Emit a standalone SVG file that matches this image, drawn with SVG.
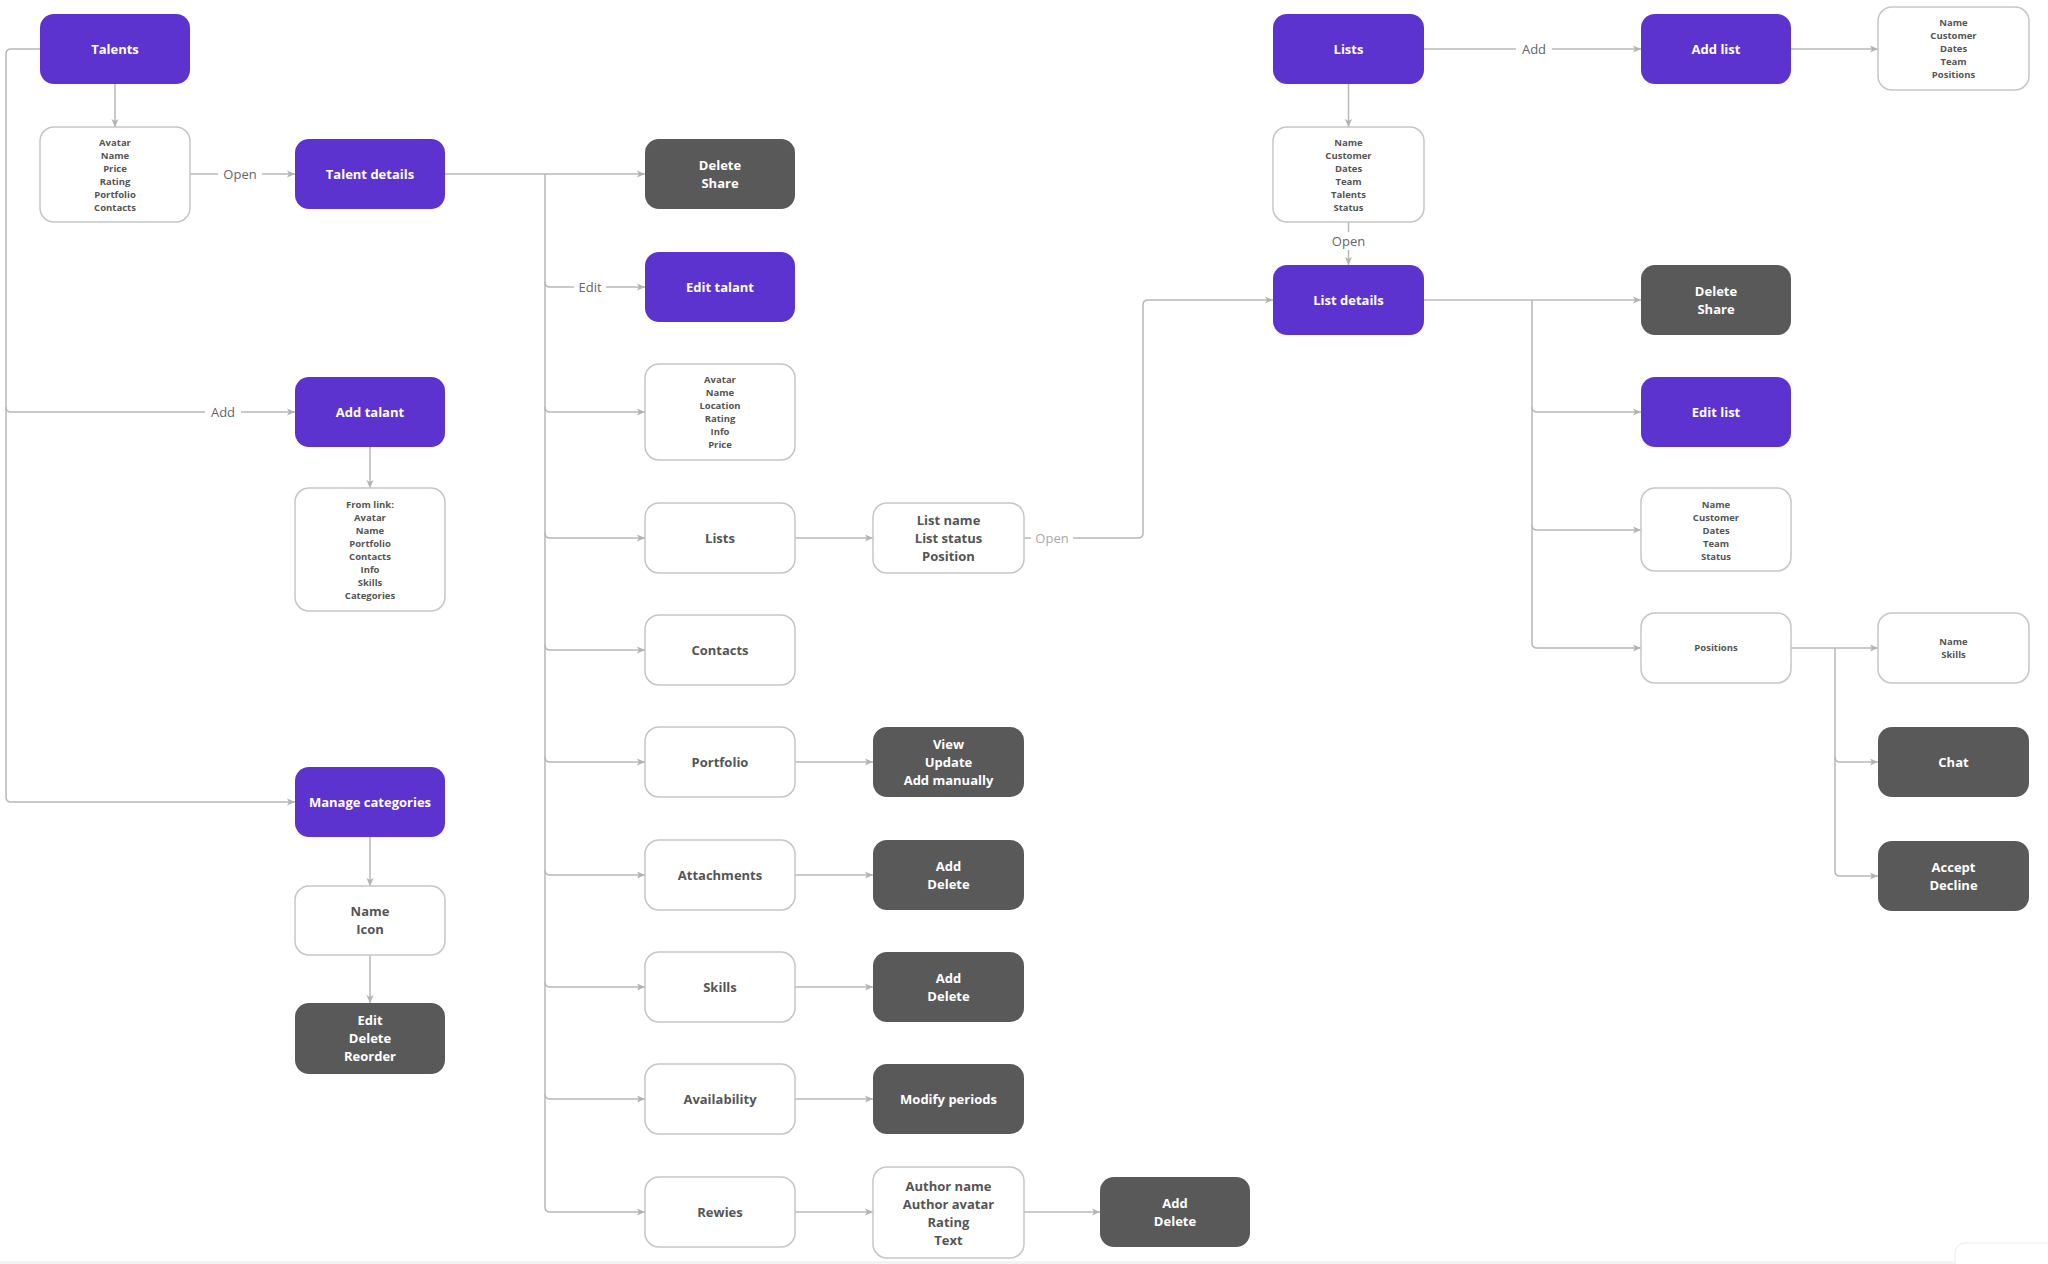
<svg xmlns="http://www.w3.org/2000/svg" width="2048" height="1264" viewBox="0 0 2048 1264">
<defs>
<style>
.p{fill:#5D33CF}
.d{fill:#595959}
.w{fill:#fff;stroke:#c6c6c6;stroke-width:1.5}
.tw{font-family:"Open Sans","Liberation Sans",sans-serif;font-weight:700;font-size:13px;fill:#fff;text-anchor:middle}
.tg{font-family:"Open Sans","Liberation Sans",sans-serif;font-weight:700;font-size:13px;fill:#555;text-anchor:middle}
.ts{font-family:"Open Sans","Liberation Sans",sans-serif;font-weight:700;font-size:9.5px;fill:#555;text-anchor:middle}
.lbl{font-family:"Open Sans","Liberation Sans",sans-serif;font-weight:400;font-size:13px;fill:#666;text-anchor:middle}
.lbl2{font-family:"Open Sans","Liberation Sans",sans-serif;font-weight:400;font-size:13px;fill:#aaa;text-anchor:middle}
.c{fill:none;stroke:#b8b8b8;stroke-width:1.5}
.a{marker-end:url(#ah)}
.bg{fill:#fff}
</style>
<marker id="ah" viewBox="0 0 10 10" refX="10" refY="5" markerWidth="8" markerHeight="8" markerUnits="userSpaceOnUse" orient="auto">
<path d="M0,0.5 L10,5 L0,9.5 L2.5,5 z" fill="#b3b3b3"/>
</marker>
</defs>
<rect width="2048" height="1264" fill="#fff"/>

<g id="connectors">
<path class="c a" d="M40 49 H11 Q6 49 6 54 V797 Q6 802 11 802 H295"/>
<path class="c a" d="M6 407 Q6 412 11 412 H295"/>
<path class="c a" d="M115 84 V127"/>
<path class="c a" d="M190 174 H295"/>
<path class="c a" d="M445 174 H645"/>
<path class="c a" d="M545 174 V1207 Q545 1212 550 1212 H645"/>
<path class="c a" d="M545 282 Q545 287 550 287 H645"/>
<path class="c a" d="M545 407 Q545 412 550 412 H645"/>
<path class="c a" d="M545 533 Q545 538 550 538 H645"/>
<path class="c a" d="M545 645 Q545 650 550 650 H645"/>
<path class="c a" d="M545 757 Q545 762 550 762 H645"/>
<path class="c a" d="M545 870 Q545 875 550 875 H645"/>
<path class="c a" d="M545 982 Q545 987 550 987 H645"/>
<path class="c a" d="M545 1094 Q545 1099 550 1099 H645"/>
<path class="c a" d="M370 447 V488"/>
<path class="c a" d="M370 837 V886"/>
<path class="c a" d="M370 955 V1003"/>
<path class="c a" d="M795 538 H873"/>
<path class="c a" d="M795 762 H873"/>
<path class="c a" d="M795 875 H873"/>
<path class="c a" d="M795 987 H873"/>
<path class="c a" d="M795 1099 H873"/>
<path class="c a" d="M795 1212 H873"/>
<path class="c a" d="M1024 1212 H1100"/>
<path class="c a" d="M1024 538 H1138 Q1143 538 1143 533 V305 Q1143 300 1148 300 H1273"/>
<path class="c a" d="M1348.5 84 V127"/>
<path class="c a" d="M1348.5 222 V265"/>
<path class="c a" d="M1424 49 H1641"/>
<path class="c a" d="M1791 49 H1878"/>
<path class="c a" d="M1424 300 H1641"/>
<path class="c a" d="M1532 300 V643 Q1532 648 1537 648 H1641"/>
<path class="c a" d="M1532 407 Q1532 412 1537 412 H1641"/>
<path class="c a" d="M1532 525 Q1532 530 1537 530 H1641"/>
<path class="c a" d="M1791 648 H1878"/>
<path class="c a" d="M1835 648 V871 Q1835 876 1840 876 H1878"/>
<path class="c a" d="M1835 757 Q1835 762 1840 762 H1878"/>
<rect class="bg" x="218" y="164" width="44" height="20"/>
<text class="lbl" x="240" y="178.5">Open</text>
<rect class="bg" x="205" y="402" width="36" height="20"/>
<text class="lbl" x="223" y="416.5">Add</text>
<rect class="bg" x="574" y="277" width="32" height="20"/>
<text class="lbl" x="590" y="291.5">Edit</text>
<rect class="bg" x="1516" y="39" width="36" height="20"/>
<text class="lbl" x="1534" y="53.5">Add</text>
<rect class="bg" x="1326" y="232" width="45" height="18"/>
<text class="lbl" x="1348.5" y="245.5">Open</text>
<rect class="bg" x="1031" y="528" width="42" height="20"/>
<text class="lbl2" x="1052" y="542.5">Open</text>
</g>

<g id="talents"><rect class="p" x="40" y="14" width="150" height="70" rx="14"/><text class="tw" x="115" y="53.6">Talents</text></g>
<g id="talents-info"><rect class="w" x="40" y="127" width="150" height="95" rx="14"/>
<text class="ts"><tspan x="115" y="145.7">Avatar</tspan><tspan x="115" y="158.7">Name</tspan><tspan x="115" y="171.7">Price</tspan><tspan x="115" y="184.7">Rating</tspan><tspan x="115" y="197.7">Portfolio</tspan><tspan x="115" y="210.7">Contacts</tspan></text></g>
<g id="talent-details"><rect class="p" x="295" y="139" width="150" height="70" rx="14"/><text class="tw" x="370" y="178.6">Talent details</text></g>
<g id="add-talant"><rect class="p" x="295" y="377" width="150" height="70" rx="14"/><text class="tw" x="370" y="416.6">Add talant</text></g>
<g id="from-link"><rect class="w" x="295" y="488" width="150" height="123" rx="14"/>
<text class="ts"><tspan x="370" y="507.9">From link:</tspan><tspan x="370" y="520.9">Avatar</tspan><tspan x="370" y="533.9">Name</tspan><tspan x="370" y="546.9">Portfolio</tspan><tspan x="370" y="559.9">Contacts</tspan><tspan x="370" y="572.9">Info</tspan><tspan x="370" y="585.9">Skills</tspan><tspan x="370" y="598.9">Categories</tspan></text></g>
<g id="manage-categories"><rect class="p" x="295" y="767" width="150" height="70" rx="14"/><text class="tw" x="370" y="806.6">Manage categories</text></g>
<g id="name-icon"><rect class="w" x="295" y="886" width="150" height="69" rx="14"/>
<text class="tg"><tspan x="370" y="916">Name</tspan><tspan x="370" y="934">Icon</tspan></text></g>
<g id="edit-delete-reorder"><rect class="d" x="295" y="1003" width="150" height="71" rx="14"/>
<text class="tw"><tspan x="370" y="1025">Edit</tspan><tspan x="370" y="1043">Delete</tspan><tspan x="370" y="1061">Reorder</tspan></text></g>

<g id="talent-delete-share"><rect class="d" x="645" y="139" width="150" height="70" rx="14"/>
<text class="tw"><tspan x="720" y="169.6">Delete</tspan><tspan x="720" y="187.6">Share</tspan></text></g>
<g id="edit-talant"><rect class="p" x="645" y="252" width="150" height="70" rx="14"/><text class="tw" x="720" y="291.6">Edit talant</text></g>
<g id="talent-fields"><rect class="w" x="645" y="364" width="150" height="96" rx="14"/>
<text class="ts"><tspan x="720" y="383.4">Avatar</tspan><tspan x="720" y="396.4">Name</tspan><tspan x="720" y="409.4">Location</tspan><tspan x="720" y="422.4">Rating</tspan><tspan x="720" y="435.4">Info</tspan><tspan x="720" y="448.4">Price</tspan></text></g>
<g id="talent-lists"><rect class="w" x="645" y="503" width="150" height="70" rx="14"/><text class="tg" x="720" y="542.6">Lists</text></g>
<g id="contacts"><rect class="w" x="645" y="615" width="150" height="70" rx="14"/><text class="tg" x="720" y="654.6">Contacts</text></g>
<g id="portfolio"><rect class="w" x="645" y="727" width="150" height="70" rx="14"/><text class="tg" x="720" y="766.6">Portfolio</text></g>
<g id="attachments"><rect class="w" x="645" y="840" width="150" height="70" rx="14"/><text class="tg" x="720" y="879.6">Attachments</text></g>
<g id="skills"><rect class="w" x="645" y="952" width="150" height="70" rx="14"/><text class="tg" x="720" y="991.6">Skills</text></g>
<g id="availability"><rect class="w" x="645" y="1064" width="150" height="70" rx="14"/><text class="tg" x="720" y="1103.6">Availability</text></g>
<g id="rewies"><rect class="w" x="645" y="1177" width="150" height="70" rx="14"/><text class="tg" x="720" y="1216.6">Rewies</text></g>

<g id="list-name"><rect class="w" x="873" y="503" width="151" height="70" rx="14"/>
<text class="tg"><tspan x="948.5" y="524.6">List name</tspan><tspan x="948.5" y="542.6">List status</tspan><tspan x="948.5" y="560.6">Position</tspan></text></g>
<g id="portfolio-actions"><rect class="d" x="873" y="727" width="151" height="70" rx="14"/>
<text class="tw"><tspan x="948.5" y="748.6">View</tspan><tspan x="948.5" y="766.6">Update</tspan><tspan x="948.5" y="784.6">Add manually</tspan></text></g>
<g id="attachments-actions"><rect class="d" x="873" y="840" width="151" height="70" rx="14"/>
<text class="tw"><tspan x="948.5" y="870.6">Add</tspan><tspan x="948.5" y="888.6">Delete</tspan></text></g>
<g id="skills-actions"><rect class="d" x="873" y="952" width="151" height="70" rx="14"/>
<text class="tw"><tspan x="948.5" y="982.6">Add</tspan><tspan x="948.5" y="1000.6">Delete</tspan></text></g>
<g id="modify-periods"><rect class="d" x="873" y="1064" width="151" height="70" rx="14"/><text class="tw" x="948.5" y="1103.6">Modify periods</text></g>
<g id="review-fields"><rect class="w" x="873" y="1167" width="151" height="91" rx="14"/>
<text class="tg"><tspan x="948.5" y="1190.6">Author name</tspan><tspan x="948.5" y="1208.6">Author avatar</tspan><tspan x="948.5" y="1226.6">Rating</tspan><tspan x="948.5" y="1244.6">Text</tspan></text></g>
<g id="review-actions"><rect class="d" x="1100" y="1177" width="150" height="70" rx="14"/>
<text class="tw"><tspan x="1175" y="1207.6">Add</tspan><tspan x="1175" y="1225.6">Delete</tspan></text></g>

<g id="lists"><rect class="p" x="1273" y="14" width="151" height="70" rx="14"/><text class="tw" x="1348.5" y="53.6">Lists</text></g>
<g id="lists-info"><rect class="w" x="1273" y="127" width="151" height="95" rx="14"/>
<text class="ts"><tspan x="1348.5" y="145.7">Name</tspan><tspan x="1348.5" y="158.7">Customer</tspan><tspan x="1348.5" y="171.7">Dates</tspan><tspan x="1348.5" y="184.7">Team</tspan><tspan x="1348.5" y="197.7">Talents</tspan><tspan x="1348.5" y="210.7">Status</tspan></text></g>
<g id="list-details"><rect class="p" x="1273" y="265" width="151" height="70" rx="14"/><text class="tw" x="1348.5" y="304.6">List details</text></g>
<g id="add-list"><rect class="p" x="1641" y="14" width="150" height="70" rx="14"/><text class="tw" x="1716" y="53.6">Add list</text></g>
<g id="add-list-fields"><rect class="w" x="1878" y="7" width="151" height="83" rx="14"/>
<text class="ts"><tspan x="1953.5" y="26.4">Name</tspan><tspan x="1953.5" y="39.4">Customer</tspan><tspan x="1953.5" y="52.4">Dates</tspan><tspan x="1953.5" y="65.4">Team</tspan><tspan x="1953.5" y="78.4">Positions</tspan></text></g>
<g id="list-delete-share"><rect class="d" x="1641" y="265" width="150" height="70" rx="14"/>
<text class="tw"><tspan x="1716" y="295.6">Delete</tspan><tspan x="1716" y="313.6">Share</tspan></text></g>
<g id="edit-list"><rect class="p" x="1641" y="377" width="150" height="70" rx="14"/><text class="tw" x="1716" y="416.6">Edit list</text></g>
<g id="list-fields"><rect class="w" x="1641" y="488" width="150" height="83" rx="14"/>
<text class="ts"><tspan x="1716" y="507.7">Name</tspan><tspan x="1716" y="520.7">Customer</tspan><tspan x="1716" y="533.7">Dates</tspan><tspan x="1716" y="546.7">Team</tspan><tspan x="1716" y="559.7">Status</tspan></text></g>
<g id="positions"><rect class="w" x="1641" y="613" width="150" height="70" rx="14"/><text class="ts" x="1716" y="651.4">Positions</text></g>
<g id="position-fields"><rect class="w" x="1878" y="613" width="151" height="70" rx="14"/>
<text class="ts"><tspan x="1953.5" y="645">Name</tspan><tspan x="1953.5" y="658">Skills</tspan></text></g>
<g id="chat"><rect class="d" x="1878" y="727" width="151" height="70" rx="14"/><text class="tw" x="1953.5" y="766.6">Chat</text></g>
<g id="accept-decline"><rect class="d" x="1878" y="841" width="151" height="70" rx="14"/>
<text class="tw"><tspan x="1953.5" y="871.6">Accept</tspan><tspan x="1953.5" y="889.6">Decline</tspan></text></g>

<rect x="0" y="1261" width="2048" height="3" fill="#f3f3f3"/>
<rect x="1955" y="1243" width="110" height="40" rx="10" fill="#fff" stroke="#ececec" stroke-width="1"/>
</svg>
